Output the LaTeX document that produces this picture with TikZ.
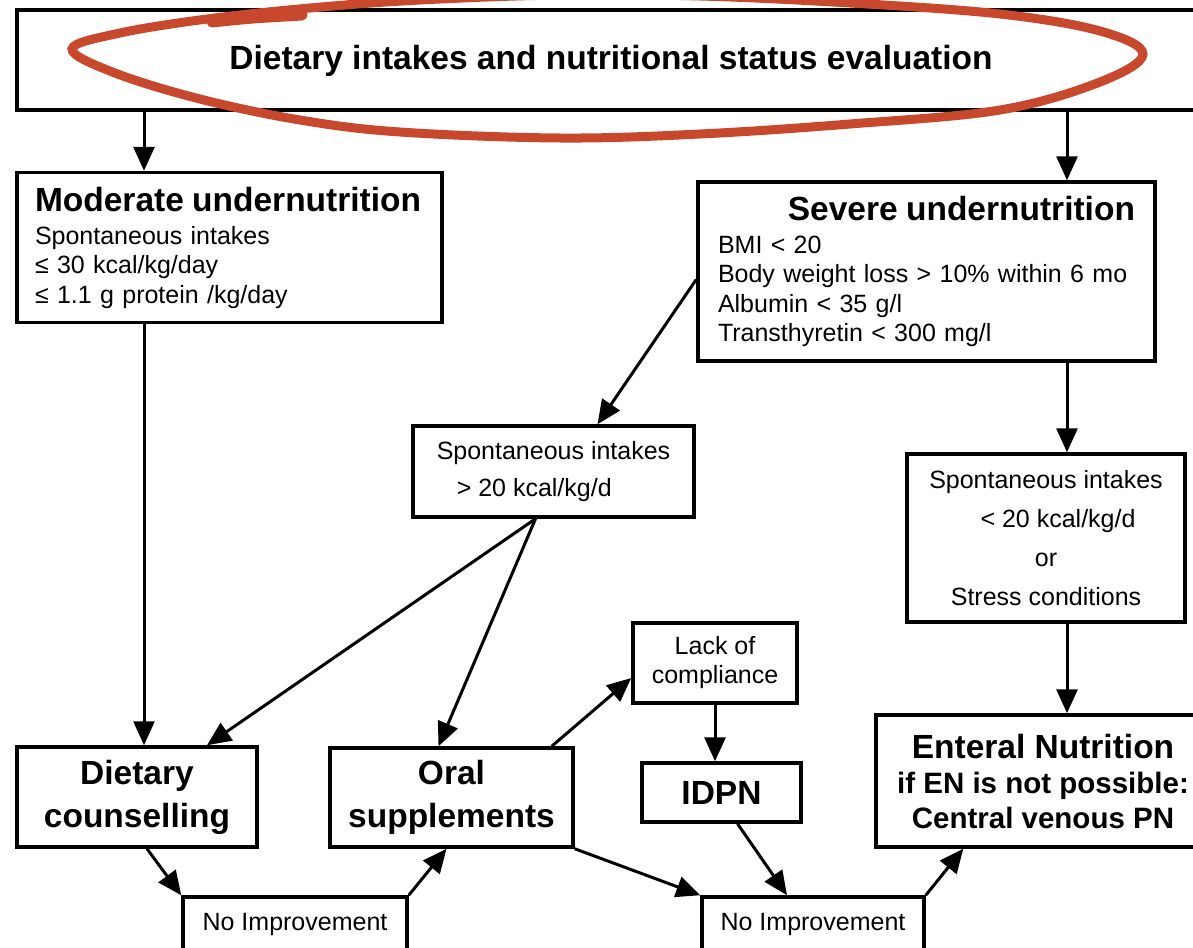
\documentclass[tikz,border=0pt]{standalone}
\usepackage{fontspec}
\setmainfont{Liberation Sans}
\usepackage{xcolor}
\usepackage{tikz}
\usetikzlibrary{arrows.meta}
\definecolor{markred}{RGB}{200,72,45}

\begin{document}
\begin{tikzpicture}[x=1pt,y=-1pt,
    box/.style={draw, line width=3.5pt, inner sep=0pt, align=center},
    big/.style={font=\bfseries\fontsize{33.5}{43}\selectfont},
    small/.style={font=\fontsize{25}{29.5}\selectfont},
    arr/.style={-{Triangle[length=24pt,width=21pt]}, line width=3pt}]
  \useasboundingbox (0,0) rectangle (1193,947);
  \clip (0,0) rectangle (1193,947);
  \coordinate (lx) at (144,0);
  \coordinate (rx) at (1067,0);

  \node [box, minimum width=1198pt, minimum height=100pt] (eval) at (616,60) {};
  \node [big] (title) at (611,61) {Dietary intakes and nutritional status evaluation};

  \node [box, small, align=left, text width=389pt, inner xsep=18pt, minimum height=150pt] (mod) at (229.5,247.5)
    {{\bfseries\fontsize{33.5}{33}\selectfont Moderate undernutrition}\\[3.5pt]
     Spontaneous intakes\\ ≤ 30 kcal/kg/day\\ ≤ 1.1 g protein /kg/day};
  \node [box, small, align=left, text width=417pt, inner xsep=20pt, minimum height=179pt] (sev) at (926.5,271.5)
    {\hspace*{\fill}{\bfseries\fontsize{33.5}{33}\selectfont Severe undernutrition}\hspace*{10pt}\\[3pt]
     BMI < 20\\ Body weight loss > 10\% within 6 mo\\ Albumin < 35 g/l\\ Transthyretin < 300 mg/l};

  \node [box, align=left, minimum width=281pt, minimum height=91pt, font=\fontsize{25}{37}\selectfont] (spm) at (553.5,471.5)
    {Spontaneous intakes\\ \hspace*{20pt}> 20 kcal/kg/d};
  \node [box, minimum width=278pt, minimum height=168pt, font=\fontsize{25}{39}\selectfont] (spr) at (1046,538)
    {Spontaneous intakes\\ \hspace*{24pt}< 20 kcal/kg/d\\ or\\ Stress conditions};

  \node [box, minimum width=164pt, minimum height=80pt, font=\fontsize{25}{29}\selectfont] (lack) at (715,663) {Lack of\\compliance};
  \node [box, big, minimum width=159pt, minimum height=59pt] (idpn) at (721.5,792.5) {IDPN};
  \node [box, big, minimum width=240pt, minimum height=100pt] (dc) at (137,797) {Dietary\\counselling};
  \node [box, big, minimum width=243pt, minimum height=99pt] (oral) at (451.5,797.5) {Oral\\supplements};
  \node [box, minimum width=334pt, minimum height=132pt, font=\bfseries\fontsize{29.5}{35}\selectfont] (en) at (1043,781)
    {{\fontsize{33.5}{35}\selectfont Enteral Nutrition}\\ if EN is not possible:\\ Central venous PN};
  \node [box, minimum width=224pt, minimum height=55pt, font=\fontsize{25}{29}\selectfont] (ni1) at (295,924.5) {No Improvement};
  \node [box, minimum width=222pt, minimum height=55pt, font=\fontsize{25}{29}\selectfont] (ni2) at (813,924.5) {No Improvement};

  \draw [arr] (eval.south -| lx) -- (mod.north -| lx);
  \draw [arr] (eval.south -| rx) -- (sev.north -| rx);
  \draw [arr] (mod.south -| lx) -- (dc.north -| lx);
  \draw [arr] (sev.south -| rx) -- (spr.north -| rx);
  \draw [arr] (spr.south -| rx) -- (en.north -| rx);
  \draw [arr] ([yshift=-8pt]sev.west) -- ([xshift=44pt]spm.north);
  \draw [arr] ([xshift=-18pt]spm.south) -- ([xshift=70pt]dc.north);
  \draw [arr] ([xshift=-18pt]spm.south) -- ([xshift=-13pt]oral.north);
  \draw [arr] ([xshift=-23pt]oral.north east) -- ([yshift=-15pt]lack.west);
  \draw [arr] (lack.south) -- (lack.south |- idpn.north);
  \draw [arr] (oral.south east) -- (ni2.north west);
  \draw [arr] ([xshift=16pt]idpn.south) -- ([xshift=-26pt]ni2.north);
  \draw [arr] ([xshift=10pt]dc.south) -- (ni1.north west);
  \draw [arr] (ni1.north east) -- ([xshift=-5pt]oral.south);
  \draw [arr] (ni2.north east) -- ([xshift=89pt]en.south west);

  % hand drawn mark round the title
  \draw [markred, line width=9pt] plot [smooth cycle, tension=0.6] coordinates {
    (72,49) (120,33) (207,19) (310,8) (420,0) (560,-5) (700,-4) (850,3) (1000,14) (1100,31)
    (1143,54) (1100,82) (1000,110) (850,124) (700,134) (560,138) (400,132) (300,120) (200,99) (115,73)};
  \draw [markred, line width=11pt, line cap=round] (212,22) .. controls (250,18) .. (302,15);
\end{tikzpicture}
\end{document}
